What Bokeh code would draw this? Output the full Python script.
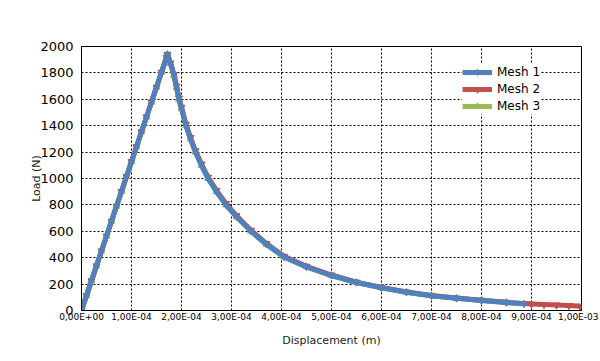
from bokeh.plotting import figure
from bokeh.models import FixedTicker, Legend, LegendItem
from bokeh.embed import file_html
from bokeh.resources import INLINE

# Displacement in units of 1e-4 m, load in N
mesh1_disp = [0.0, 0.1, 0.2, 0.3, 0.4, 0.5, 0.6, 0.7, 0.8, 0.9, 1.0, 1.1, 1.2, 1.3, 1.4, 1.5, 1.6, 1.7, 1.72,
              1.78, 1.85, 1.9, 1.95, 2.0, 2.09, 2.18, 2.28, 2.4, 2.53, 2.7, 2.89, 3.1, 3.39, 3.7, 4.05, 4.5,
              5.0, 5.5, 6.0, 6.5, 7.0, 7.5, 8.0, 8.5, 8.85]
mesh1_load = [0, 113, 226, 338, 451, 564, 677, 790, 902, 1015, 1128, 1241, 1354, 1466, 1579, 1692, 1805, 1918, 1940,
              1870, 1780, 1690, 1600, 1530, 1400, 1300, 1200, 1100, 1000, 900, 800, 710, 600, 500, 405, 330,
              265, 212, 172, 138, 112, 92, 76, 60, 51]

mesh2_disp = [0.0, 0.1, 0.2, 0.3, 0.4, 0.5, 0.6, 0.7, 0.8, 0.9, 1.0, 1.1, 1.2, 1.3, 1.4, 1.5, 1.6, 1.7, 1.72,
              1.78, 1.85, 1.9, 1.95, 2.0, 2.09, 2.18, 2.28, 2.4, 2.53, 2.7, 2.89, 3.1, 3.39, 3.7, 4.05, 4.5,
              5.0, 5.5, 6.0, 6.5, 7.0, 7.5, 8.0, 8.5, 8.85, 9.0, 9.25, 9.5, 9.75, 9.97]
mesh2_load = [0, 113, 226, 338, 451, 564, 677, 790, 902, 1015, 1128, 1241, 1354, 1466, 1579, 1692, 1805, 1918, 1940,
              1875, 1788, 1700, 1610, 1540, 1410, 1310, 1210, 1110, 1010, 910, 810, 718, 608, 507, 411, 335,
              269, 215, 175, 140, 114, 94, 78, 62, 53, 49, 45, 41, 37, 33]

mesh3_disp = [0.0, 0.1, 0.2, 0.3, 0.4, 0.5, 0.6, 0.7, 0.8, 0.9, 1.0, 1.1, 1.2, 1.3, 1.4, 1.5, 1.6, 1.7, 1.72,
              1.78, 1.85, 1.9, 1.95, 2.0, 2.09, 2.18, 2.28, 2.4, 2.53, 2.7, 2.89, 3.1, 3.39, 3.7, 4.05, 4.5,
              5.0, 5.5, 6.0, 6.5, 7.0, 7.5, 8.0, 8.5]
mesh3_load = [0, 113, 226, 338, 451, 564, 677, 790, 902, 1015, 1128, 1241, 1354, 1466, 1579, 1692, 1805, 1918, 1940,
              1870, 1780, 1690, 1600, 1530, 1400, 1300, 1200, 1100, 1000, 900, 800, 710, 600, 500, 405, 330,
              265, 212, 172, 138, 112, 92, 76, 60]

x_ticks = [0.0, 1e-4, 2e-4, 3e-4, 4e-4, 5e-4, 6e-4, 7e-4, 8e-4, 9e-4, 1e-3]
x_tick_labels = ["0,00E+00", "1,00E-04", "2,00E-04", "3,00E-04", "4,00E-04", "5,00E-04",
                 "6,00E-04", "7,00E-04", "8,00E-04", "9,00E-04", "1,00E-03"]
y_ticks = [0, 200, 400, 600, 800, 1000, 1200, 1400, 1600, 1800, 2000]

series_names = ["Mesh 1", "Mesh 2", "Mesh 3"]
colors = ["#4F81BD", "#C0504D", "#9BBB59"]

p = figure(width=598, height=359, output_backend="svg", toolbar_location=None,
           x_range=(0, 1e-3), y_range=(0, 2000),
           min_border_left=81, min_border_right=17, min_border_top=46, min_border_bottom=49)
p.background_fill_color = "white"
p.border_fill_color = "white"
p.outline_line_color = "black"
p.outline_line_width = 1

def scale(v):
    return [d * 1e-4 for d in v]

# draw order: Mesh 3 under, Mesh 2, Mesh 1 on top
l3 = p.line(scale(mesh3_disp), mesh3_load, line_color=colors[2], line_width=5)
s3 = p.scatter(scale(mesh3_disp), mesh3_load, marker="triangle", size=7, fill_color=colors[2], line_color=colors[2])
l2 = p.line(scale(mesh2_disp), mesh2_load, line_color=colors[1], line_width=5)
s2 = p.scatter(scale(mesh2_disp), mesh2_load, marker="inverted_triangle", size=7, fill_color=colors[1], line_color=colors[1])
l1 = p.line(scale(mesh1_disp), mesh1_load, line_color=colors[0], line_width=5)
s1 = p.scatter(scale(mesh1_disp), mesh1_load, marker="diamond", size=7, fill_color=colors[0], line_color=colors[0])

p.xaxis.ticker = FixedTicker(ticks=x_ticks)
p.xaxis.major_label_overrides = {t: lab for t, lab in zip(x_ticks, x_tick_labels)}
p.yaxis.ticker = FixedTicker(ticks=y_ticks)

p.xgrid.grid_line_color = "black"
p.ygrid.grid_line_color = "black"
p.xgrid.grid_line_dash = "2 2"
p.ygrid.grid_line_dash = "2 2"
p.xgrid.grid_line_width = 1
p.ygrid.grid_line_width = 1

for ax in (p.xaxis[0], p.yaxis[0]):
    ax.axis_line_color = "black"
    ax.axis_line_width = 1
    ax.major_tick_in = 0
    ax.major_tick_out = 0
    ax.minor_tick_in = 0
    ax.minor_tick_out = 0
    ax.major_label_text_color = "black"
    ax.major_label_text_font = "DejaVu Sans"
    ax.axis_label_text_font = "DejaVu Sans"
    ax.axis_label_text_font_style = "normal"
    ax.axis_label_text_color = "#222222"
    ax.axis_label_text_font_size = "11px"

p.xaxis.major_label_text_font_size = "9px"
p.xaxis.major_label_standoff = 1
p.xaxis.axis_label = "Displacement (m)"
p.xaxis.axis_label_standoff = 9
p.yaxis.major_label_text_font_size = "13px"
p.yaxis.major_label_standoff = 8
p.yaxis.axis_label = "Load (N)"
p.yaxis.axis_label_standoff = -6

legend = Legend(items=[
    LegendItem(label=series_names[0], renderers=[l1, s1]),
    LegendItem(label=series_names[1], renderers=[l2, s2]),
    LegendItem(label=series_names[2], renderers=[l3, s3]),
], location=(381, 196))
legend.label_text_font = "DejaVu Sans"
legend.label_text_font_size = "12px"
legend.label_text_color = "black"
legend.glyph_width = 30
legend.glyph_height = 16
legend.label_height = 16
legend.spacing = 1
legend.padding = 4
legend.margin = 0
legend.label_standoff = 5
legend.border_line_color = None
legend.background_fill_color = "white"
legend.background_fill_alpha = 1.0
p.add_layout(legend, "center")

html = file_html(p, INLINE)
open("out.html", "w").write(html)
